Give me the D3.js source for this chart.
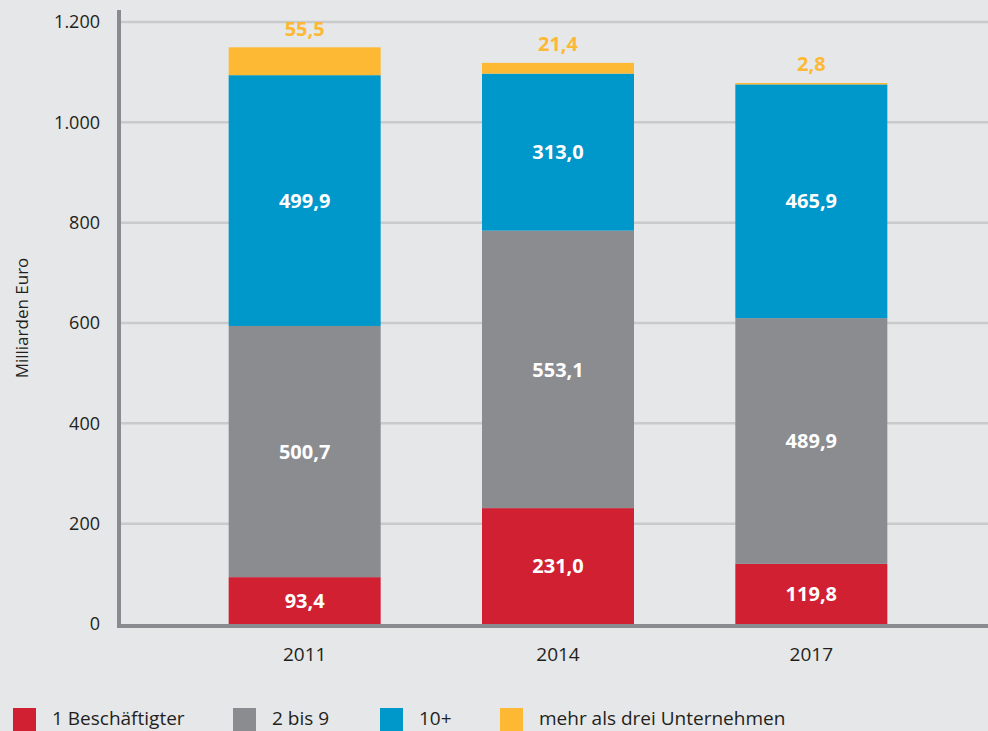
<!DOCTYPE html>
<html>
<head>
<meta charset="utf-8">
<title>Milliarden Euro</title>
<script src="https://cdnjs.cloudflare.com/ajax/libs/d3/7.8.5/d3.min.js"></script>
<style>
    body { margin: 0; background: #e6e7e9; }
    svg { display: block; font-family: "Open Sans", "Noto Sans", sans-serif; }
</style>
</head>
<body>
<script>
    var years = ["2011", "2014", "2017"];
    var seriesNames = ["1 Beschäftigter", "2 bis 9", "10+", "mehr als drei Unternehmen"];
    var einBeschaeftigter = [93.4, 231.0, 119.8];
    var zweiBisNeun = [500.7, 553.1, 489.9];
    var zehnPlus = [499.9, 313.0, 465.9];
    var mehrAlsDrei = [55.5, 21.4, 2.8];
    var yTicks = [0, 200, 400, 600, 800, 1000, 1200];
    var colors = ["#d12031", "#8b8c90", "#0097cb", "#fdb933"];

    var width = 988, height = 731;

    var svg = d3.select("body").append("svg")
        .attr("width", width)
        .attr("height", height);

    var x = d3.scaleBand().domain(years).range([178, 938])
        .paddingInner(0.4).paddingOuter(0.2);
    var y = d3.scaleLinear().domain([0, 1200]).range([624, 22]);

    var fmt = function (v) { return d3.format(".1f")(v).replace(".", ","); };
    var fmtTick = function (v) { return d3.format(",")(v).replace(/,/g, "."); };

    // gridlines
    svg.append("g").selectAll("line")
        .data(yTicks.slice(1))
        .enter().append("line")
        .attr("x1", 121).attr("x2", width)
        .attr("y1", function (d) { return y(d); })
        .attr("y2", function (d) { return y(d); })
        .attr("stroke", "#c9cacc")
        .attr("stroke-width", 2.5);

    // stacked data
    var rows = years.map(function (yr, i) {
        return { year: yr, s0: einBeschaeftigter[i], s1: zweiBisNeun[i], s2: zehnPlus[i], s3: mehrAlsDrei[i] };
    });
    var stack = d3.stack().keys(["s0", "s1", "s2", "s3"])(rows);

    var layers = svg.append("g").selectAll("g")
        .data(stack)
        .enter().append("g")
        .attr("fill", function (d, i) { return colors[i]; });

    layers.selectAll("rect")
        .data(function (d) { return d; })
        .enter().append("rect")
        .attr("x", function (d) { return x(d.data.year); })
        .attr("width", x.bandwidth())
        .attr("y", function (d) { return y(d[1]); })
        .attr("height", function (d) { return y(d[0]) - y(d[1]); });

    // labels inside segments
    stack.slice(0, 3).forEach(function (layer) {
        svg.append("g").selectAll("text")
            .data(layer)
            .enter().append("text")
            .attr("x", function (d) { return x(d.data.year) + x.bandwidth() / 2; })
            .attr("y", function (d) { return (y(d[0]) + y(d[1])) / 2; })
            .attr("dy", "0.36em")
            .attr("text-anchor", "middle")
            .attr("fill", "#fff")
            .attr("font-weight", "bold")
            .attr("font-size", 20)
            .text(function (d) { return fmt(d[1] - d[0]); });
    });

    // labels above bars (top segment)
    svg.append("g").selectAll("text")
        .data(stack[3])
        .enter().append("text")
        .attr("x", function (d) { return x(d.data.year) + x.bandwidth() / 2; })
        .attr("y", function (d) { return y(d[1]) - 19; })
        .attr("dy", "0.36em")
        .attr("text-anchor", "middle")
        .attr("fill", "#fdb933")
        .attr("font-weight", "bold")
        .attr("font-size", 20)
        .text(function (d) { return fmt(d[1] - d[0]); });

    // axes
    var yAxis = svg.append("g")
        .attr("transform", "translate(119,0)")
        .call(d3.axisLeft(y).tickValues(yTicks).tickFormat(fmtTick).tickSize(0).tickPadding(19));
    yAxis.select(".domain").remove();
    yAxis.selectAll("text").attr("font-size", 18).attr("fill", "#231f20")
        .attr("font-family", "'Open Sans', sans-serif");

    var xAxis = svg.append("g")
        .attr("transform", "translate(0,626)")
        .call(d3.axisBottom(x).tickSize(0).tickPadding(22));
    xAxis.select(".domain").remove();
    xAxis.selectAll("text").attr("font-size", 19).attr("fill", "#231f20")
        .attr("font-family", "'Open Sans', sans-serif");

    svg.append("line")
        .attr("x1", 119).attr("x2", 119)
        .attr("y1", 10).attr("y2", 628)
        .attr("stroke", "#8a8b8e").attr("stroke-width", 4);
    svg.append("line")
        .attr("x1", 117).attr("x2", width)
        .attr("y1", 626).attr("y2", 626)
        .attr("stroke", "#8a8b8e").attr("stroke-width", 4);

    svg.append("text")
        .attr("transform", "translate(28,318) rotate(-90)")
        .attr("text-anchor", "middle")
        .attr("font-size", 17)
        .attr("fill", "#231f20")
        .text("Milliarden Euro");

    // legend
    var legendX = [13, 233, 380, 500];
    var legend = svg.append("g").selectAll("g")
        .data(seriesNames)
        .enter().append("g")
        .attr("transform", function (d, i) { return "translate(" + legendX[i] + ",708)"; });
    legend.append("rect")
        .attr("width", 23).attr("height", 23)
        .attr("fill", function (d, i) { return colors[i]; });
    legend.append("text")
        .attr("x", 39).attr("y", 10)
        .attr("dy", "0.36em")
        .attr("font-size", 19)
        .attr("fill", "#231f20")
        .text(function (d) { return d; });
</script>
</body>
</html>
